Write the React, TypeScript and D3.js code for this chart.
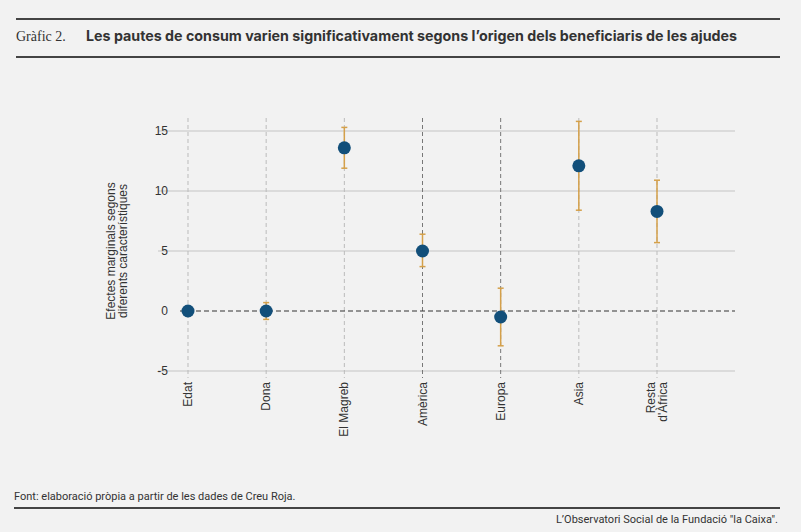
import React from "react";
import * as d3 from "d3";

const categories = ["Edat", "Dona", "El Magreb", "Amèrica", "Europa", "Asia", "Resta d'Àfrica"];
const estimates = [0, 0, 13.6, 5.0, -0.5, 12.1, 8.3];
const lower = [0, -0.7, 11.9, 3.7, -2.9, 8.4, 5.7];
const upper = [0, 0.7, 15.3, 6.4, 1.9, 15.8, 10.9];
const yTicks = [-5, 0, 5, 10, 15];
const darkLines = ["Amèrica", "Europa"];

export default function App() {
  const W = 801, H = 532;
  const x = d3.scalePoint<string>().domain(categories).range([188, 657]);
  const y = d3.scaleLinear().domain([-5, 15]).range([371, 131]);
  const font = "Roboto, 'Liberation Sans', sans-serif";
  const axFont = "'Liberation Sans', Arial, sans-serif";
  return (
    <svg width={W} height={H} style={{ position: "absolute", left: 0, top: 0 }} fontFamily={font}>
      <rect width={W} height={H} fill="#f2f2f2" />
      <line x1={16} x2={780} y1={19} y2={19} stroke="#444" strokeWidth={2} />
      <text x={16} y={41} fontFamily="'Liberation Serif', serif" fontSize={14} fill="#333">Gràfic 2.</text>
      <text x={86} y={41} fontFamily="Inter, sans-serif" fontSize={14} fontWeight="bold" fill="#333" textLength={651} lengthAdjust="spacingAndGlyphs">Les pautes de consum varien significativament segons l’origen dels beneficiaris de les ajudes</text>
      <line x1={16} x2={780} y1={57} y2={57} stroke="#444" strokeWidth={2} />
      {yTicks.map((t) => (
        <g key={t}>
          {t !== 0 && <line x1={158} x2={735} y1={y(t)} y2={y(t)} stroke="#c4c4c4" />}
          <text x={168} y={y(t) + 4} textAnchor="end" fontSize={12} fontFamily={axFont} fill="#333">{t}</text>
        </g>
      ))}
      {categories.map((c) => (
        <line key={c} x1={x(c)} x2={x(c)} y1={118} y2={378}
          stroke={darkLines.includes(c) ? "#777" : "#bbb"} strokeDasharray="4,3" />
      ))}
      <line x1={180} x2={735} y1={y(0)} y2={y(0)} stroke="#333" strokeDasharray="5,3" />
      <text transform="translate(115,251) rotate(-90)" textAnchor="middle" fontSize={12} fontFamily={axFont} fill="#333">
        <tspan x={0} dy={0}>Efectes marginals segons</tspan>
        <tspan x={0} dy={12}>diferents característiques</tspan>
      </text>
      {categories.map((c, i) => (
        <g key={c}>
          {upper[i] !== lower[i] && (
            <g stroke="#d4a04a" strokeWidth={1.5}>
              <line x1={x(c)} x2={x(c)} y1={y(lower[i])} y2={y(upper[i])} />
              <line x1={x(c)! - 3} x2={x(c)! + 3} y1={y(lower[i])} y2={y(lower[i])} />
              <line x1={x(c)! - 3} x2={x(c)! + 3} y1={y(upper[i])} y2={y(upper[i])} />
            </g>
          )}
          <circle cx={x(c)} cy={y(estimates[i])} r={6.5} fill="#124f7a" />
        </g>
      ))}
      {categories.map((c) => {
        const parts = c === "Resta d'Àfrica" ? ["Resta", "d'Àfrica"] : [c];
        return (
          <text key={c} transform={`translate(${x(c)! + 4 - (parts.length - 1) * 6},382) rotate(-90)`} textAnchor="end" fontSize={12} fontFamily={axFont} fill="#333">
            {parts.map((p, j) => <tspan key={j} x={0} dy={j === 0 ? 0 : 12}>{p}</tspan>)}
          </text>
        );
      })}
      <text x={14} y={500} fontSize={11} fill="#333">Font: elaboració pròpia a partir de les dades de Creu Roja.</text>
      <line x1={14} x2={780} y1={508} y2={508} stroke="#444" strokeWidth={2} />
      <text x={778} y={523} textAnchor="end" fontSize={11} fill="#333">L’Observatori Social de la Fundació "la Caixa".</text>
    </svg>
  );
}
